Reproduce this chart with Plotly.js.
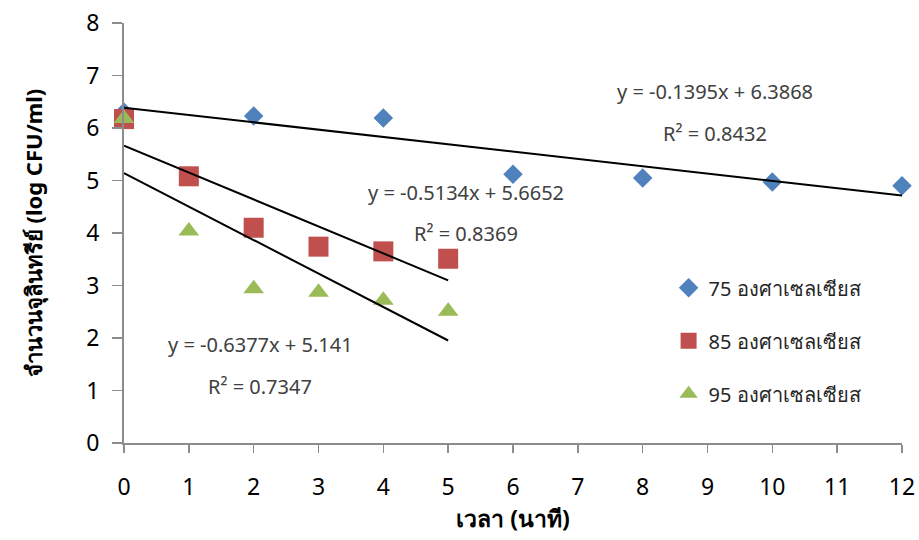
<!DOCTYPE html>
<html>
<head>
<meta charset="utf-8">
<script src="https://cdn.plot.ly/plotly-3.0.1.min.js"></script>
<style>html,body{margin:0;padding:0;background:#fff;}#chart{width:919px;height:540px;}</style>
</head>
<body>
<div id="chart"></div>
<script>
// Data
const seriesNames = ["75 องศาเซลเซียส", "85 องศาเซลเซียส", "95 องศาเซลเซียส"];
const x75 = [0, 2, 4, 6, 8, 10, 12];
const y75 = [6.30, 6.23, 6.19, 5.12, 5.05, 4.97, 4.90];
const x85 = [0, 1, 2, 3, 4, 5];
const y85 = [6.17, 5.08, 4.10, 3.74, 3.65, 3.51];
const x95 = [0, 1, 2, 3, 4, 5];
const y95 = [6.18, 4.04, 2.94, 2.87, 2.72, 2.51];
// Linear trendline coefficients printed on the chart
const slopes = [-0.1395, -0.5134, -0.6377];
const intercepts = [6.3868, 5.6652, 5.141];
const r2 = ["0.8432", "0.8369", "0.7347"];
const eqText = ["y = -0.1395x + 6.3868", "y = -0.5134x + 5.6652", "y = -0.6377x + 5.141"];
const xTitle = "เวลา (นาที)";
const yTitle = "จำนวนจุลินทรีย์ (log CFU/ml)";

const colors = ["#4F81BD", "#C0504D", "#9BBB59"];
const symbols = ["diamond", "square", "triangle-up"];
const sizes = [15, 20, 18];
const xs = [x75, x85, x95];
const ys = [y75, y85, y95];

const traces = [];
for (let i = 0; i < 3; i++) {
  traces.push({
    x: xs[i], y: ys[i], mode: "markers", type: "scatter", name: seriesNames[i],
    legendgroup: "g" + i,
    marker: {color: colors[i], symbol: symbols[i], size: sizes[i], line: {width: 0}},
    cliponaxis: false
  });
}
for (let i = 0; i < 3; i++) {
  const xx = xs[i];
  const x0 = Math.min(...xx), x1 = Math.max(...xx);
  traces.push({
    x: [x0, x1], y: [intercepts[i] + slopes[i] * x0, intercepts[i] + slopes[i] * x1],
    mode: "lines", type: "scatter", showlegend: false, hoverinfo: "skip",
    line: {color: "#000000", width: 2}
  });
}

const fontFam = "'Noto Sans', 'DejaVu Sans', sans-serif";
const annPos = [[9.12, 6.70, 9.12, 5.90], [5.27, 4.78, 5.27, 4.00], [2.10, 1.87, 2.10, 1.07]];
const annotations = [];
for (let i = 0; i < 3; i++) {
  annotations.push({x: annPos[i][0], y: annPos[i][1], xref: "x", yref: "y", text: eqText[i], showarrow: false,
    font: {family: fontFam, size: 20, color: "#404040"}});
  annotations.push({x: annPos[i][2], y: annPos[i][3], xref: "x", yref: "y", text: "R² = " + r2[i], showarrow: false,
    font: {family: fontFam, size: 20, color: "#404040"}});
}

const layout = {
  width: 919, height: 540,
  margin: {l: 124, r: 17, t: 23, b: 97},
  paper_bgcolor: "#fff", plot_bgcolor: "#fff",
  font: {family: fontFam, color: "#000"},
  showlegend: true,
  legend: {x: 0.70, y: 0.416, xanchor: "left", yanchor: "top", bgcolor: "rgba(0,0,0,0)",
    font: {family: fontFam, size: 20, color: "#262626"}, tracegroupgap: 24, itemsizing: "trace"},
  xaxis: {
    range: [0, 12], tickmode: "array", tickvals: [0,1,2,3,4,5,6,7,8,9,10,11,12],
    showgrid: false, zeroline: false, showline: true, linecolor: "#8c8c8c", linewidth: 2,
    ticks: "outside", ticklen: 8, tickwidth: 1.5, tickcolor: "#8c8c8c", ticklabelstandoff: 14,
    tickfont: {family: fontFam, size: 23, color: "#000", weight: "normal"},
    title: {text: xTitle, font: {family: fontFam, size: 23, color: "#000", weight: "bold"}, standoff: 6}
  },
  yaxis: {
    range: [0, 8], tickmode: "array", tickvals: [0,1,2,3,4,5,6,7,8],
    showgrid: false, zeroline: false, showline: true, linecolor: "#8c8c8c", linewidth: 2,
    ticks: "outside", ticklen: 10, tickwidth: 1.5, tickcolor: "#8c8c8c", ticklabelstandoff: 8,
    tickfont: {family: fontFam, size: 23, color: "#000", weight: "normal"},
    title: {text: yTitle, font: {family: fontFam, size: 22, color: "#000", weight: "bold"}, standoff: 38}
  },
  annotations: annotations
};

Plotly.newPlot("chart", traces, layout, {displayModeBar: false, staticPlot: true});
</script>
</body>
</html>
